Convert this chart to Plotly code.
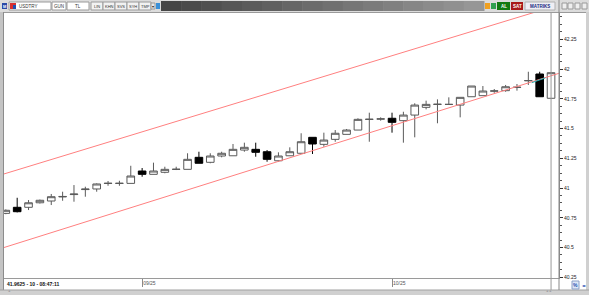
import plotly.graph_objects as go

# ---------------- data ----------------
dates = [
    "2025-08-14", "2025-08-15", "2025-08-18", "2025-08-19", "2025-08-20", "2025-08-21", "2025-08-22",
    "2025-08-25", "2025-08-26", "2025-08-27", "2025-08-28", "2025-08-29",
    "2025-09-01", "2025-09-02", "2025-09-03", "2025-09-04", "2025-09-05",
    "2025-09-08", "2025-09-09", "2025-09-10", "2025-09-11", "2025-09-12",
    "2025-09-15", "2025-09-16", "2025-09-17", "2025-09-18", "2025-09-19",
    "2025-09-22", "2025-09-23", "2025-09-24", "2025-09-25", "2025-09-26",
    "2025-09-29", "2025-09-30",
    "2025-10-01", "2025-10-02", "2025-10-03",
    "2025-10-06", "2025-10-07", "2025-10-08", "2025-10-09", "2025-10-10",
    "2025-10-13", "2025-10-14", "2025-10-15", "2025-10-16", "2025-10-17",
    "2025-10-20", "2025-10-21",
]
opens = [40.787, 40.838, 40.838, 40.876, 40.891, 40.925, 40.945, 40.987, 40.992, 41.038, 41.038, 41.039,
         41.143, 41.115, 41.132, 41.156, 41.157, 41.258, 41.216, 41.269, 41.271, 41.319,
         41.325, 41.305, 41.229, 41.271, 41.292, 41.426, 41.367, 41.409, 41.451, 41.487,
         41.576, 41.579, 41.586, 41.566, 41.613, 41.678, 41.702, 41.702, 41.697, 41.767,
         41.776, 41.814, 41.818, 41.845, 41.901, 41.958, 41.754]
highs = [40.820, 40.918, 40.899, 40.903, 40.950, 40.969, 41.025, 41.011, 41.039, 41.059, 41.061, 41.187,
         41.168, 41.213, 41.179, 41.179, 41.292, 41.305, 41.292, 41.305, 41.370, 41.381,
         41.381, 41.319, 41.300, 41.342, 41.460, 41.426, 41.465, 41.487, 41.496, 41.586,
         41.633, 41.594, 41.633, 41.641, 41.712, 41.734, 41.745, 41.762, 41.762, 41.857,
         41.857, 41.832, 41.866, 41.874, 41.977, 41.977, 41.975]
lows = [40.780, 40.795, 40.815, 40.870, 40.857, 40.893, 40.885, 40.927, 40.969, 41.019, 41.019, 41.039,
        41.095, 41.115, 41.124, 41.151, 41.157, 41.208, 41.208, 41.258, 41.271, 41.305,
        41.263, 41.221, 41.221, 41.271, 41.292, 41.286, 41.347, 41.389, 41.451, 41.487,
        41.389, 41.566, 41.465, 41.381, 41.426, 41.661, 41.544, 41.700, 41.594, 41.767,
        41.776, 41.800, 41.809, 41.818, 41.866, 41.767, 41.754]
closes = [40.813, 40.801, 40.876, 40.897, 40.927, 40.929, 40.949, 40.991, 41.034, 41.040, 41.040, 41.101,
          41.115, 41.143, 41.157, 41.158, 41.241, 41.208, 41.269, 41.292, 41.325, 41.342,
          41.300, 41.241, 41.269, 41.305, 41.389, 41.370, 41.403, 41.460, 41.487, 41.577,
          41.578, 41.581, 41.552, 41.613, 41.697, 41.703, 41.704, 41.703, 41.762, 41.857,
          41.815, 41.816, 41.851, 41.847, 41.903, 41.767, 41.969]

# trend channel (bar index, price)
channel_x = [-1.0, 50.0]
channel_upper = [41.094, 42.577]
channel_lower = [40.475, 42.003]

# short cyan segment near the last bars
cyan_x = [46.3, 47.5]
cyan_y = [41.885, 41.925]

y_ticks = [40.25, 40.5, 40.75, 41.0, 41.25, 41.5, 41.75, 42.0, 42.25]
y_tick_labels = ["40.25", "40.5", "40.75", "41", "41.25", "41.5", "41.75", "42", "42.25"]
x_tick_dates = ["2025-09-01", "2025-10-01"]
x_tick_labels = ["09/25", "10/25"]

symbol = "USDTRY"
status_text = "41.9625 - 10 - 08:47:11"

# ---------------- figure ----------------
idx = list(range(len(dates)))

W, H = 589, 295
ML, MR, MT, MB = 4, 30, 12, 17
PW, PH = W - ML - MR, H - MT - MB
FONT = "Liberation Sans"


def px(x):
    return (x - ML) / PW


def py(y):
    return (H - MB - y) / PH


shapes = []
annotations = []


def rect(x0, y0, x1, y1, fill, line=None, lw=1):
    shapes.append(dict(type="rect", xref="paper", yref="paper",
                       x0=px(x0), x1=px(x1), y0=py(y1), y1=py(y0),
                       fillcolor=fill, line=dict(color=line or fill, width=lw if line else 0),
                       layer="above"))


def hline(x0, x1, y, color, lw=1):
    shapes.append(dict(type="line", xref="paper", yref="paper",
                       x0=px(x0), x1=px(x1), y0=py(y), y1=py(y),
                       line=dict(color=color, width=lw), layer="above"))


def vline(x, y0, y1, color, lw=1):
    shapes.append(dict(type="line", xref="paper", yref="paper",
                       x0=px(x), x1=px(x), y0=py(y0), y1=py(y1),
                       line=dict(color=color, width=lw), layer="above"))


def text(x, y, s, size=5, color="#222", anchor="left", bold=False):
    annotations.append(dict(xref="paper", yref="paper", x=px(x), y=py(y), text=("<b>%s</b>" % s) if bold else s,
                            showarrow=False, xanchor=anchor, yanchor="middle",
                            font=dict(family=FONT, size=size, color=color)))


fig = go.Figure()

fig.add_trace(go.Scatter(x=channel_x, y=channel_upper, mode="lines",
                         line=dict(color="#ff8080", width=1), hoverinfo="skip"))
fig.add_trace(go.Scatter(x=channel_x, y=channel_lower, mode="lines",
                         line=dict(color="#ff8080", width=1), hoverinfo="skip"))
fig.add_trace(go.Candlestick(
    x=idx, open=opens, high=highs, low=lows, close=closes,
    increasing=dict(fillcolor="#ffffff", line=dict(color="#5a5a5a", width=1)),
    decreasing=dict(fillcolor="#000000", line=dict(color="#000000", width=1)),
    whiskerwidth=0, hoverinfo="skip",
))
fig.add_trace(go.Scatter(x=cyan_x, y=cyan_y, mode="lines",
                         line=dict(color="#20b0b0", width=1), hoverinfo="skip"))

# crosshair at last bar
shapes.append(dict(type="line", xref="x", yref="paper", x0=idx[-1], x1=idx[-1], y0=py(290), y1=py(0),
                   line=dict(color="#9a9a9a", width=1), layer="above"))

# ---- toolbar ----
rect(0, 0, 589, 12, "#dcdcdc")
hline(0, 589, 12.5, "#9a9a9a")
rect(2, 3, 7, 9, "#2a4aa8")
text(4.5, 6, "M", 4, "#ffffff", "center", True)
rect(9, 2, 51, 10, "#ffffff", "#9a9a9a")
rect(10, 3, 16, 9, "#d83030")
rect(13, 5, 16, 9, "#2050b0")
text(17, 6, symbol, 4.5, "#333", "left")
rect(52, 2, 66, 10, "#ffffff", "#9a9a9a")
text(59, 6, "GUN", 4.5, "#333", "center")
rect(67, 2, 89, 10, "#ffffff", "#9a9a9a")
text(78, 6, "TL", 4.5, "#333", "center")
for x0, x1, lab in [(91, 103, "LIN"), (103, 115, "KHN"), (115, 127, "SVS"), (127, 139, "SYH"), (139, 151, "TMP")]:
    rect(x0, 2, x1, 10, "#f2f2f2", "#9a9a9a")
    text((x0 + x1) / 2, 6, lab, 4, "#333", "center")
rect(151, 3, 155, 9, "#e8e8e8", "#9a9a9a")
text(153, 6, "▾", 4, "#222", "center")
rect(156, 3, 160, 9, "#3a90d8")
# dark gradient bar
n = 16
x_start, x_end = 161, 484
for k in range(n):
    c = int(70 + (150 - 70) * k / (n - 1))
    col = "#%02x%02x%02x" % (c, c, c)
    rect(x_start + (x_end - x_start) * k / n, 1, x_start + (x_end - x_start) * (k + 1) / n + 0.5, 11, col)
rect(485, 3, 490, 9, "#f0a020")
rect(491, 3, 496, 9, "#30a050")
rect(497, 2, 510, 10, "#127a12")
text(503.5, 6, "AL", 4.5, "#ffffff", "center", True)
rect(511, 2, 523, 10, "#a81818")
text(517, 6, "SAT", 4.5, "#ffffff", "center", True)
rect(525, 2, 555, 10, "#eeeef4", "#b0b0b0")
text(540, 6, "MATRIKS", 4.5, "#1a2a80", "center", True)
for x0 in [562, 568, 575, 582]:
    rect(x0, 3, x0 + 5, 9, "#eeeeee", "#9a9a9a")

# ---- frame ----
rect(0, 12, 3.5, 295, "#c4c4c4")
vline(3.5, 12, 290, "#8c8c8c")
rect(586, 12, 589, 295, "#d0d0d0")
rect(0, 290, 589, 295, "#d0d0d0")
hline(0, 589, 290, "#a0a0a0")
vline(559, 0, 290, "#888888")
text(5, 284, status_text, 5, "#111", "left", True)
text(6, 290.5, "⊥", 3, "#666", "left")
text(544, 290.5, "⊥⊥", 3, "#666", "left")
rect(572, 281, 579, 289, "#dde6f6", "#8aa0c8")
text(575.5, 285, "%", 5, "#2050b0", "center", True)
text(583.5, 285, "◂▸", 4, "#2050b0", "center")

fig.update_layout(
    width=W, height=H,
    margin=dict(l=ML, r=MR, t=MT, b=MB),
    paper_bgcolor="#ffffff", plot_bgcolor="#ffffff",
    showlegend=False, hovermode=False,
    boxgap=0.33, boxgroupgap=0,
    shapes=shapes, annotations=annotations,
    font=dict(family=FONT, size=5, color="#222"),
)
fig.update_xaxes(
    range=[-0.16, 48.7], rangeslider=dict(visible=False),
    showgrid=False, zeroline=False, showline=True, linecolor="#9a9a9a", linewidth=1, mirror=True,
    tickvals=[dates.index(d) for d in x_tick_dates], ticktext=x_tick_labels,
    ticks="outside", ticklen=8, tickcolor="#8a8a8a", tickwidth=1,
    ticklabelposition="outside right",
    tickfont=dict(family=FONT, size=5, color="#555"),
)
fig.update_yaxes(
    side="right", range=[40.244, 42.479],
    showgrid=False, zeroline=False, showline=True, linecolor="#888888", linewidth=1, mirror=True,
    tickvals=y_ticks, ticktext=y_tick_labels,
    ticks="outside", ticklen=3, tickcolor="#333", tickwidth=1,
    minor=dict(dtick=0.0625, tick0=40.25, ticks="outside", ticklen=2, tickcolor="#555", showgrid=False),
    tickfont=dict(family=FONT, size=5, color="#222"),
)

fig.write_html("out.html")
